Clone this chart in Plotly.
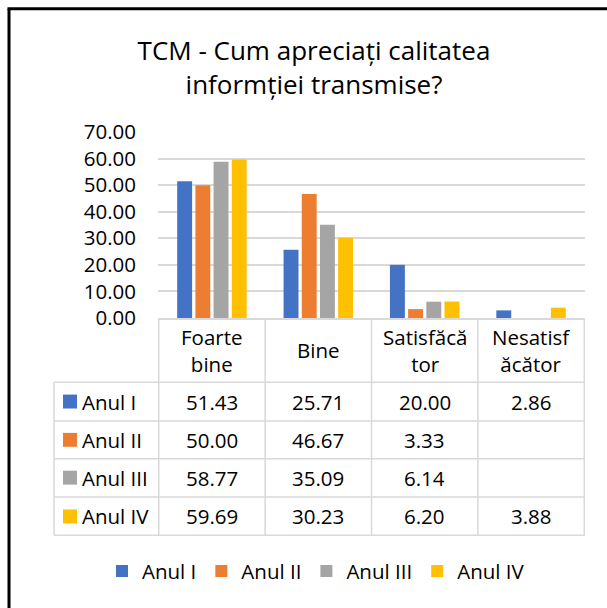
import plotly.graph_objects as go

# ---------------- data ----------------
categories = ["Foarte bine", "Bine", "Satisfăcător", "Nesatisfăcător"]
header_labels = ["Foarte<br>bine", "Bine", "Satisfăcă<br>tor", "Nesatisf<br>ăcător"]
series_names = ["Anul I", "Anul II", "Anul III", "Anul IV"]
anul_1 = [51.43, 25.71, 20.00, 2.86]
anul_2 = [50.00, 46.67, 3.33, None]
anul_3 = [58.77, 35.09, 6.14, None]
anul_4 = [59.69, 30.23, 6.20, 3.88]
y_ticks = [0, 10, 20, 30, 40, 50, 60, 70]
title_text = "TCM - Cum apreciați calitatea<br>informției transmise?"

series_values = [anul_1, anul_2, anul_3, anul_4]
colors = ["#4472C4", "#ED7D31", "#A5A5A5", "#FFC000"]

# ---------------- layout geometry ----------------
W, H = 607, 608
ML, MR, MT, MB = 158, 22, 131.5, 289.5
PW = W - ML - MR
PH = H - MT - MB
FONT = "Open Sans"
FS = 20.5
GRID = "#D9D9D9"


def px(xp):
    return (xp - ML) / PW


def py(yp):
    return (H - MB - yp) / PH


fig = go.Figure()
for name, vals, col in zip(series_names, series_values, colors):
    fig.add_trace(go.Bar(x=categories, y=vals, name=name, marker_color=col,
                         marker_line_width=0))

shapes = []
annotations = []

# table horizontal lines
row_lines = [383, 422, 460, 498.5, 537]
for yp in row_lines:
    shapes.append(dict(type="line", xref="paper", yref="paper",
                       x0=px(54), x1=px(ML + PW), y0=py(yp), y1=py(yp),
                       line=dict(color=GRID, width=1.5)))
# table vertical lines (category boundaries)
for i in range(len(categories) + 1):
    shapes.append(dict(type="line", xref="x", yref="paper",
                       x0=i - 0.5, x1=i - 0.5, y0=py(H - MB), y1=py(537),
                       line=dict(color=GRID, width=1.5)))
shapes.append(dict(type="line", xref="paper", yref="paper",
                   x0=px(54), x1=px(54), y0=py(383), y1=py(537),
                   line=dict(color=GRID, width=1.5)))

txt_font = dict(family=FONT, size=FS, color="#000")

# header
for cat, lab in zip(categories, header_labels):
    annotations.append(dict(x=cat, y=py(351), xref="x", yref="paper",
                            text=lab, showarrow=False, align="center",
                            xanchor="center", yanchor="middle", font=txt_font))

row_centers = [402.5, 441, 479, 518]
for r, (name, vals, col) in enumerate(zip(series_names, series_values, colors)):
    yc = row_centers[r]
    shapes.append(dict(type="rect", xref="paper", yref="paper",
                       x0=px(63), x1=px(77), y0=py(yc + 7), y1=py(yc - 7),
                       fillcolor=col, line=dict(width=0)))
    annotations.append(dict(x=px(80), y=py(yc), xref="paper", yref="paper",
                            text=name, showarrow=False, xanchor="left",
                            yanchor="middle", font=txt_font))
    for cat, v in zip(categories, vals):
        if v is None:
            continue
        annotations.append(dict(x=cat, y=py(yc), xref="x", yref="paper",
                                text=f"{v:.2f}", showarrow=False,
                                xanchor="center", yanchor="middle",
                                font=txt_font))

# outer frame (top and left edges visible)
shapes.append(dict(type="line", xref="paper", yref="paper",
                   x0=px(9), x1=px(9), y0=py(7.5), y1=py(H + 5),
                   line=dict(color="#000", width=3)))
shapes.append(dict(type="line", xref="paper", yref="paper",
                   x0=px(7.5), x1=px(W + 5), y0=py(7.5), y1=py(7.5),
                   line=dict(color="#000", width=3)))

fig.update_layout(
    width=W, height=H,
    margin=dict(l=ML, r=MR, t=MT, b=MB, pad=0),
    paper_bgcolor="white", plot_bgcolor="white",
    barmode="group", bargap=0.316, bargroupgap=0.18,
    title=dict(text=title_text, x=314 / W, xanchor="center", xref="container",
               y=1 - 60 / H, yanchor="middle",
               font=dict(family=FONT, size=26, color="#000")),
    font=txt_font,
    showlegend=True,
    legend=dict(orientation="h", x=px(316), xanchor="center",
                y=py(573), yanchor="middle", font=txt_font,
                itemwidth=30, traceorder="normal"),
    shapes=shapes,
    annotations=annotations,
)
fig.update_xaxes(showticklabels=False, showgrid=False, showline=True,
                 linecolor=GRID, linewidth=1.5, ticks="", zeroline=False)
fig.update_yaxes(range=[0, 70], tickvals=y_ticks, tickformat=".2f",
                 showgrid=True, gridcolor=GRID, gridwidth=1.5,
                 zeroline=False, showline=False, ticklabelstandoff=21,
                 tickfont=txt_font)

fig.write_html("out.html", config={"displayModeBar": False},
               post_script="document.body.style.margin='0';document.body.style.overflow='hidden';")
